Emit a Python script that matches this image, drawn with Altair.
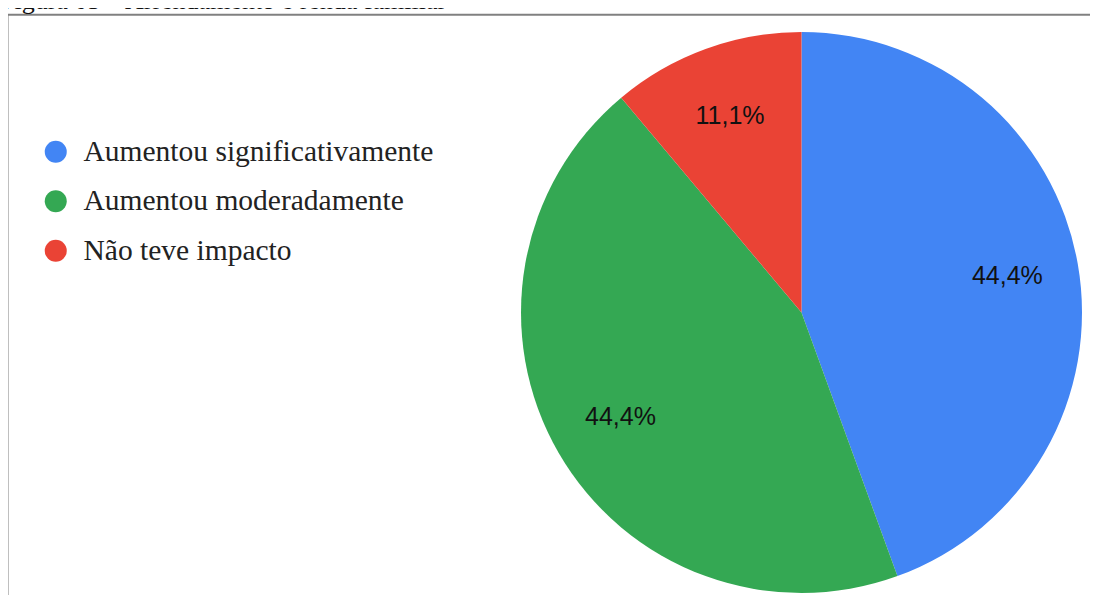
import altair as alt
import pandas as pd

categories = ["Aumentou significativamente", "Aumentou moderadamente", "Não teve impacto"]
values = [4, 4, 1]
labels = ["44,4%", "44,4%", "11,1%"]
colors = ["#4285F4", "#34A853", "#EA4335"]
title_text = "Figura 05 – Arrendamento e renda familiar"

df = pd.DataFrame({"cat": categories, "val": values, "lab": labels, "idx": list(range(len(categories)))})

W, H = 1082, 587
CX, CY, R = 793.5, 304.5, 280.5

base = alt.Chart(df)

arcs = base.mark_arc(stroke=None).encode(
    theta=alt.Theta("val:Q", stack=True),
    order=alt.Order("idx:O"),
    color=alt.Color(
        "cat:N",
        scale=alt.Scale(domain=categories, range=colors),
        legend=alt.Legend(
            title=None,
            orient="none",
            legendX=33,
            legendY=129,
            symbolType="circle",
            symbolSize=484,
            symbolStrokeWidth=0,
            labelFont="Liberation Serif",
            labelFontSize=29.5,
            labelColor="#222222",
            labelOffset=13,
            rowPadding=18.5,
            labelLimit=600,
        ),
    ),
    x=alt.value(CX),
    y=alt.value(CY),
    radius=alt.value(R),
)

texts = base.mark_text(font="Liberation Sans", fontSize=25, color="#111111", align="center", baseline="middle").encode(
    theta=alt.Theta("val:Q", stack=True),
    order=alt.Order("idx:O"),
    text="lab:N",
    x=alt.value(CX),
    y=alt.value(CY),
    radius=alt.value(209),
)

tdf = pd.DataFrame({"t": [title_text]})
title = alt.Chart(tdf).mark_text(font="Liberation Serif", fontSize=26, color="#111111", align="left", baseline="alphabetic").encode(
    text="t:N", x=alt.value(-8), y=alt.value(1)
)

border_top = alt.Chart(tdf).mark_rule(color="#808080", strokeWidth=2).encode(
    x=alt.value(-1.5), x2=alt.value(W + 10), y=alt.value(6.7)
)
border_left = alt.Chart(tdf).mark_rule(color="#808080", strokeWidth=2).encode(
    x=alt.value(-0.5), y=alt.value(6.7), y2=alt.value(H + 10)
)

chart = alt.layer(border_top, border_left, title, arcs, texts).properties(
    width=W, height=H, padding=0, autosize=alt.AutoSizeParams(type="none")
).configure_view(stroke=None)

chart.save("out.html", embed_options={"renderer": "svg", "actions": False})
